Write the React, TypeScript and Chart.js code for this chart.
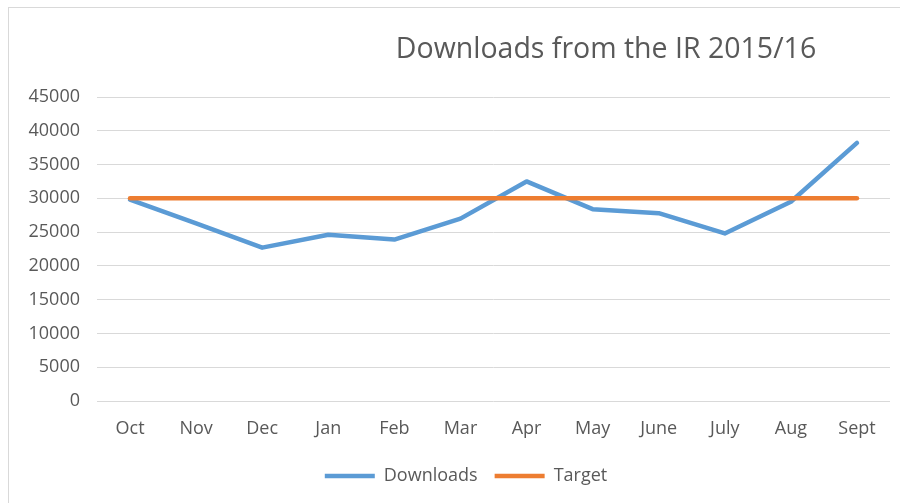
import React, { useEffect, useRef } from "react";
import { Chart, registerables } from "chart.js";

Chart.register(...registerables);

const TITLE = "Downloads from the IR 2015/16";
const categories = ["Oct", "Nov", "Dec", "Jan", "Feb", "Mar", "Apr", "May", "June", "July", "Aug", "Sept"];
const downloads = [29800, 26300, 22700, 24600, 23900, 27000, 32500, 28400, 27800, 24800, 29500, 38200];
const target = [30000, 30000, 30000, 30000, 30000, 30000, 30000, 30000, 30000, 30000, 30000, 30000];
const yMin = 0;
const yMax = 45000;
const yStep = 5000;

const FONT = '"Open Sans", "DejaVu Sans", sans-serif';
const TEXT = "#595959";
const GRID = "#d9d9d9";

const titlePlugin = {
  id: "fixedTitle",
  afterLayout(chart: any) {
    const l = chart.legend;
    if (l) {
      l.left += 21;
      l.right += 21;
    }
  },
  afterDraw(chart: any) {
    const ctx = chart.ctx;
    ctx.save();
    ctx.font = `28.5px ${FONT}`;
    ctx.fillStyle = TEXT;
    ctx.textAlign = "center";
    ctx.textBaseline = "alphabetic";
    ctx.fillText(TITLE, 606, 57.5);
    ctx.restore();
  },
};

export default function App() {
  const ref = useRef<HTMLCanvasElement | null>(null);
  useEffect(() => {
    if (!ref.current) return;
    const chart = new Chart(ref.current, {
      type: "line",
      data: {
        labels: categories,
        datasets: [
          {
            label: "Downloads",
            data: downloads,
            borderColor: "#5b9bd5",
            backgroundColor: "#5b9bd5",
            borderWidth: 4.5,
            pointRadius: 0,
            tension: 0,
            borderCapStyle: "round",
            borderJoinStyle: "round",
            order: 1,
          },
          {
            label: "Target",
            data: target,
            borderColor: "#ed7d31",
            backgroundColor: "#ed7d31",
            borderWidth: 4.5,
            pointRadius: 0,
            tension: 0,
            borderCapStyle: "round",
            borderJoinStyle: "round",
            order: 0,
          },
        ],
      },
      options: {
        animation: false,
        responsive: false,
        layout: { padding: { top: 97, left: 0, right: 10, bottom: 8 } },
        plugins: {
          title: { display: false },
          tooltip: { enabled: false },
          legend: {
            position: "bottom",
            labels: {
              usePointStyle: true,
              pointStyle: "line",
              pointStyleWidth: 50,
              padding: 17,
              color: TEXT,
              font: { family: FONT, size: 18 },
              sort: (a: any, b: any) => a.datasetIndex - b.datasetIndex,
            },
          },
        },
        scales: {
          x: {
            offset: true,
            grid: { display: false, drawTicks: false },
            border: { display: false },
            ticks: { color: TEXT, font: { family: FONT, size: 18 }, padding: 17, maxRotation: 0 },
            afterFit: (s: any) => {
              s.height = 49;
            },
          },
          y: {
            min: yMin,
            max: yMax,
            grid: { color: GRID, lineWidth: 1, drawTicks: false },
            border: { display: false },
            ticks: {
              stepSize: yStep,
              color: TEXT,
              font: { family: FONT, size: 18 },
              padding: 17,
              callback: (v: any) => String(v),
            },
            afterFit: (s: any) => {
              s.width = 97;
            },
          },
        },
      },
      plugins: [titlePlugin],
    } as any);
    return () => chart.destroy();
  }, []);

  return (
    <div
      style={{
        position: "fixed",
        left: 0,
        top: 0,
        width: 900,
        height: 503,
        background: "#ffffff",
        overflow: "hidden",
      }}
    >
      <div
        style={{
          position: "absolute",
          left: 8,
          top: 7,
          width: 1000,
          height: 1000,
          border: `1px solid ${GRID}`,
        }}
      />
      <canvas ref={ref} width={900} height={503} style={{ position: "absolute", left: 0, top: 0 }} />
    </div>
  );
}
